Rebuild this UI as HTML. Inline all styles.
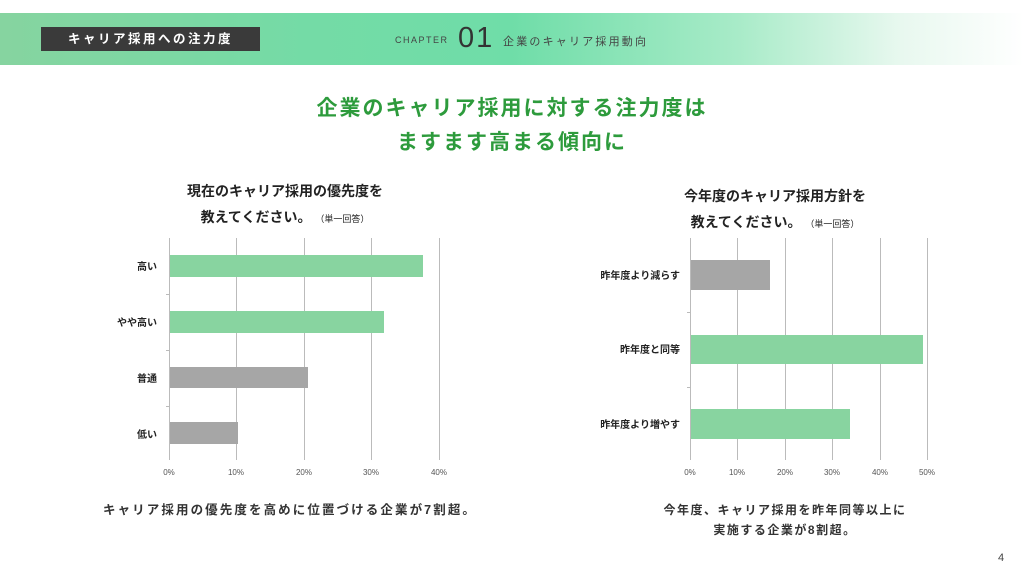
<!DOCTYPE html>
<html><head><meta charset="utf-8"><style>
*{margin:0;padding:0;box-sizing:border-box}
body{width:1024px;height:576px;background:#fff;position:relative;overflow:hidden;font-family:"Liberation Sans","Noto Sans CJK JP",sans-serif;color:#333}
.band{position:absolute;left:0;top:13px;width:1024px;height:52px;background:linear-gradient(90deg,#86d4a0 0%,#74dba6 30%,#6fdda8 50%,#a8ebc8 72%,#e8f8ef 88%,#ffffff 100%)}
.box{position:absolute;left:41px;top:27px;width:219px;height:24px;background:#3a3a3a;color:#fff;font-size:12.5px;font-weight:bold;letter-spacing:2.5px;text-align:center;line-height:24px}
.ch{position:absolute;left:395px;top:35px;font-size:9px;letter-spacing:1.5px;color:#444}
.num{position:absolute;left:458px;top:22px;font-size:29px;font-weight:300;color:#333;letter-spacing:2px;line-height:32px}
.chs{position:absolute;left:503px;top:33px;font-size:11px;letter-spacing:2.2px;color:#444}
.title{position:absolute;left:0;width:1024px;text-align:center;font-size:21px;font-weight:bold;color:#2d9b3c;letter-spacing:2px}
.q{position:absolute;text-align:center;font-size:14px;font-weight:bold;color:#222;line-height:26px}
.q small{font-size:9px;font-weight:normal}
.f{position:absolute;font-size:12px;font-weight:bold;letter-spacing:1.5px;text-align:center;color:#333;line-height:20px}
</style></head><body>
<div class="band"></div>
<div class="box">キャリア採用への注力度</div>
<div class="ch">CHAPTER</div>
<div class="num">01</div>
<div class="chs">企業のキャリア採用動向</div>
<div class="title" style="top:92px">企業のキャリア採用に対する注力度は</div>
<div class="title" style="top:126px">ますます高まる傾向に</div>
<div class="q" style="left:150px;width:270px;top:178px">現在のキャリア採用の優先度を<br>教えてください。 <small>（単一回答）</small></div>
<div class="q" style="left:640px;width:270px;top:183px">今年度のキャリア採用方針を<br>教えてください。 <small>（単一回答）</small></div>
<svg width="1024" height="576" style="position:absolute;left:0;top:0" font-family="Liberation Sans, Noto Sans CJK JP, sans-serif">
<g stroke="#bbb" stroke-width="1">
<line x1="236.5" y1="238" x2="236.5" y2="460"/><line x1="304.5" y1="238" x2="304.5" y2="460"/><line x1="371.5" y1="238" x2="371.5" y2="460"/><line x1="439.5" y1="238" x2="439.5" y2="460"/>
<line x1="169.5" y1="238" x2="169.5" y2="460"/>
<line x1="166" y1="294.5" x2="169" y2="294.5"/><line x1="166" y1="350.5" x2="169" y2="350.5"/><line x1="166" y1="406.5" x2="169" y2="406.5"/>
<line x1="737.5" y1="238" x2="737.5" y2="460"/><line x1="785.5" y1="238" x2="785.5" y2="460"/><line x1="832.5" y1="238" x2="832.5" y2="460"/><line x1="880.5" y1="238" x2="880.5" y2="460"/><line x1="927.5" y1="238" x2="927.5" y2="460"/>
<line x1="690.5" y1="238" x2="690.5" y2="460"/>
<line x1="687" y1="312.5" x2="690" y2="312.5"/><line x1="687" y1="387.5" x2="690" y2="387.5"/>
</g>
<rect x="170" y="255" width="253" height="22" fill="#88d4a0"/>
<rect x="170" y="311" width="214" height="22" fill="#88d4a0"/>
<rect x="170" y="367" width="138" height="21" fill="#a6a6a6"/>
<rect x="170" y="422" width="68" height="22" fill="#a6a6a6"/>
<rect x="691" y="260" width="79" height="30" fill="#a6a6a6"/>
<rect x="691" y="335" width="232" height="29" fill="#88d4a0"/>
<rect x="691" y="409" width="159" height="30" fill="#88d4a0"/>
<g font-size="10" fill="#222" text-anchor="end" font-weight="600">
<text x="157" y="270">高い</text><text x="157" y="326">やや高い</text><text x="157" y="382">普通</text><text x="157" y="438">低い</text>
<text x="680" y="279">昨年度より減らす</text><text x="680" y="353">昨年度と同等</text><text x="680" y="428">昨年度より増やす</text>
</g>
<g font-size="8" fill="#555" text-anchor="middle">
<text x="169" y="475">0%</text><text x="236" y="475">10%</text><text x="304" y="475">20%</text><text x="371" y="475">30%</text><text x="439" y="475">40%</text>
<text x="690" y="475">0%</text><text x="737" y="475">10%</text><text x="785" y="475">20%</text><text x="832" y="475">30%</text><text x="880" y="475">40%</text><text x="927" y="475">50%</text>
</g>
<text x="998" y="561" font-size="11" fill="#444">4</text>
</svg>
<div class="f" style="left:80px;width:420px;top:500px;letter-spacing:2.1px;font-size:12.5px">キャリア採用の優先度を高めに位置づける企業が7割超。</div>
<div class="f" style="left:610px;width:350px;top:500px">今年度、キャリア採用を昨年同等以上に<br>実施する企業が8割超。</div>
</body></html>
